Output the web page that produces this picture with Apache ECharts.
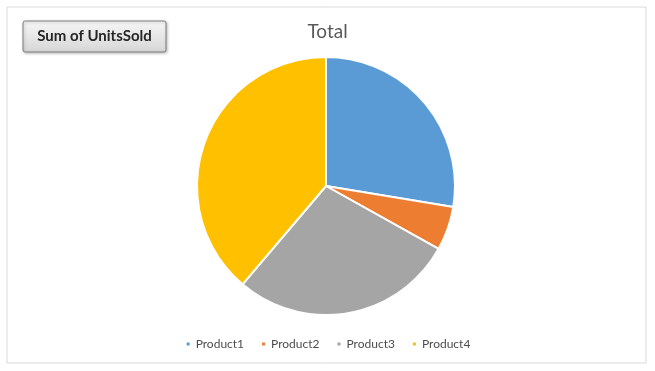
<!DOCTYPE html>
<html>
<head>
<meta charset="utf-8">
<script src="https://cdn.jsdelivr.net/npm/echarts@6/dist/echarts.min.js"></script>
<style>
html,body{margin:0;padding:0;background:#fff;}
#chart{width:655px;height:371px;}
</style>
</head>
<body>
<div id="chart"></div>
<script>
const categories = ['Product1', 'Product2', 'Product3', 'Product4'];
const unitsSold = [276, 55, 281, 388];
const colors = ['#5b9bd5', '#ed7d31', '#a5a5a5', '#ffc000'];
const titleText = 'Total';
const fieldButton = 'Sum of UnitsSold';

const chart = echarts.init(document.getElementById('chart'));
const font = 'Lato, "Open Sans", sans-serif';
chart.setOption({
  backgroundColor: '#ffffff',
  animation: false,
  color: colors,
  title: {
    text: titleText,
    left: 'center',
    top: 17,
    textStyle: {fontFamily: font, fontSize: 19, fontWeight: 'normal', color: '#595959'}
  },
  legend: {
    data: categories,
    bottom: 16,
    left: 'center',
    icon: 'rect',
    itemWidth: 5,
    itemHeight: 5,
    itemGap: 16,
    textStyle: {fontFamily: font, fontSize: 12, color: '#4d4d4d'}
  },
  graphic: [
    {
      type: 'rect',
      shape: {x: 7, y: 7, width: 639, height: 356},
      style: {fill: 'none', stroke: '#d9d9d9', lineWidth: 1},
      silent: true, z: -1
    },
    {
      type: 'rect',
      shape: {x: 23, y: 21, width: 143, height: 31, r: 2},
      style: {
        fill: new echarts.graphic.LinearGradient(0, 0, 0, 1, [
          {offset: 0, color: '#f7f7f7'},
          {offset: 1, color: '#d6d6d6'}
        ]),
        stroke: '#7f7f7f',
        lineWidth: 1,
        shadowBlur: 3,
        shadowColor: 'rgba(0,0,0,0.25)',
        shadowOffsetX: 1,
        shadowOffsetY: 1
      },
      silent: true
    },
    {
      type: 'text',
      x: 94.5, y: 36.5,
      style: {
        text: fieldButton,
        align: 'center', verticalAlign: 'middle',
        fontFamily: font, fontSize: 15, fontWeight: 'bold', fill: '#262626'
      },
      silent: true
    }
  ],
  series: [{
    type: 'pie',
    center: [326, 186],
    radius: 129,
    startAngle: 90,
    clockwise: true,
    label: {show: false},
    labelLine: {show: false},
    itemStyle: {borderColor: '#ffffff', borderWidth: 2},
    emphasis: {disabled: true},
    data: categories.map((c, i) => ({name: c, value: unitsSold[i]}))
  }]
});
</script>
</body>
</html>
